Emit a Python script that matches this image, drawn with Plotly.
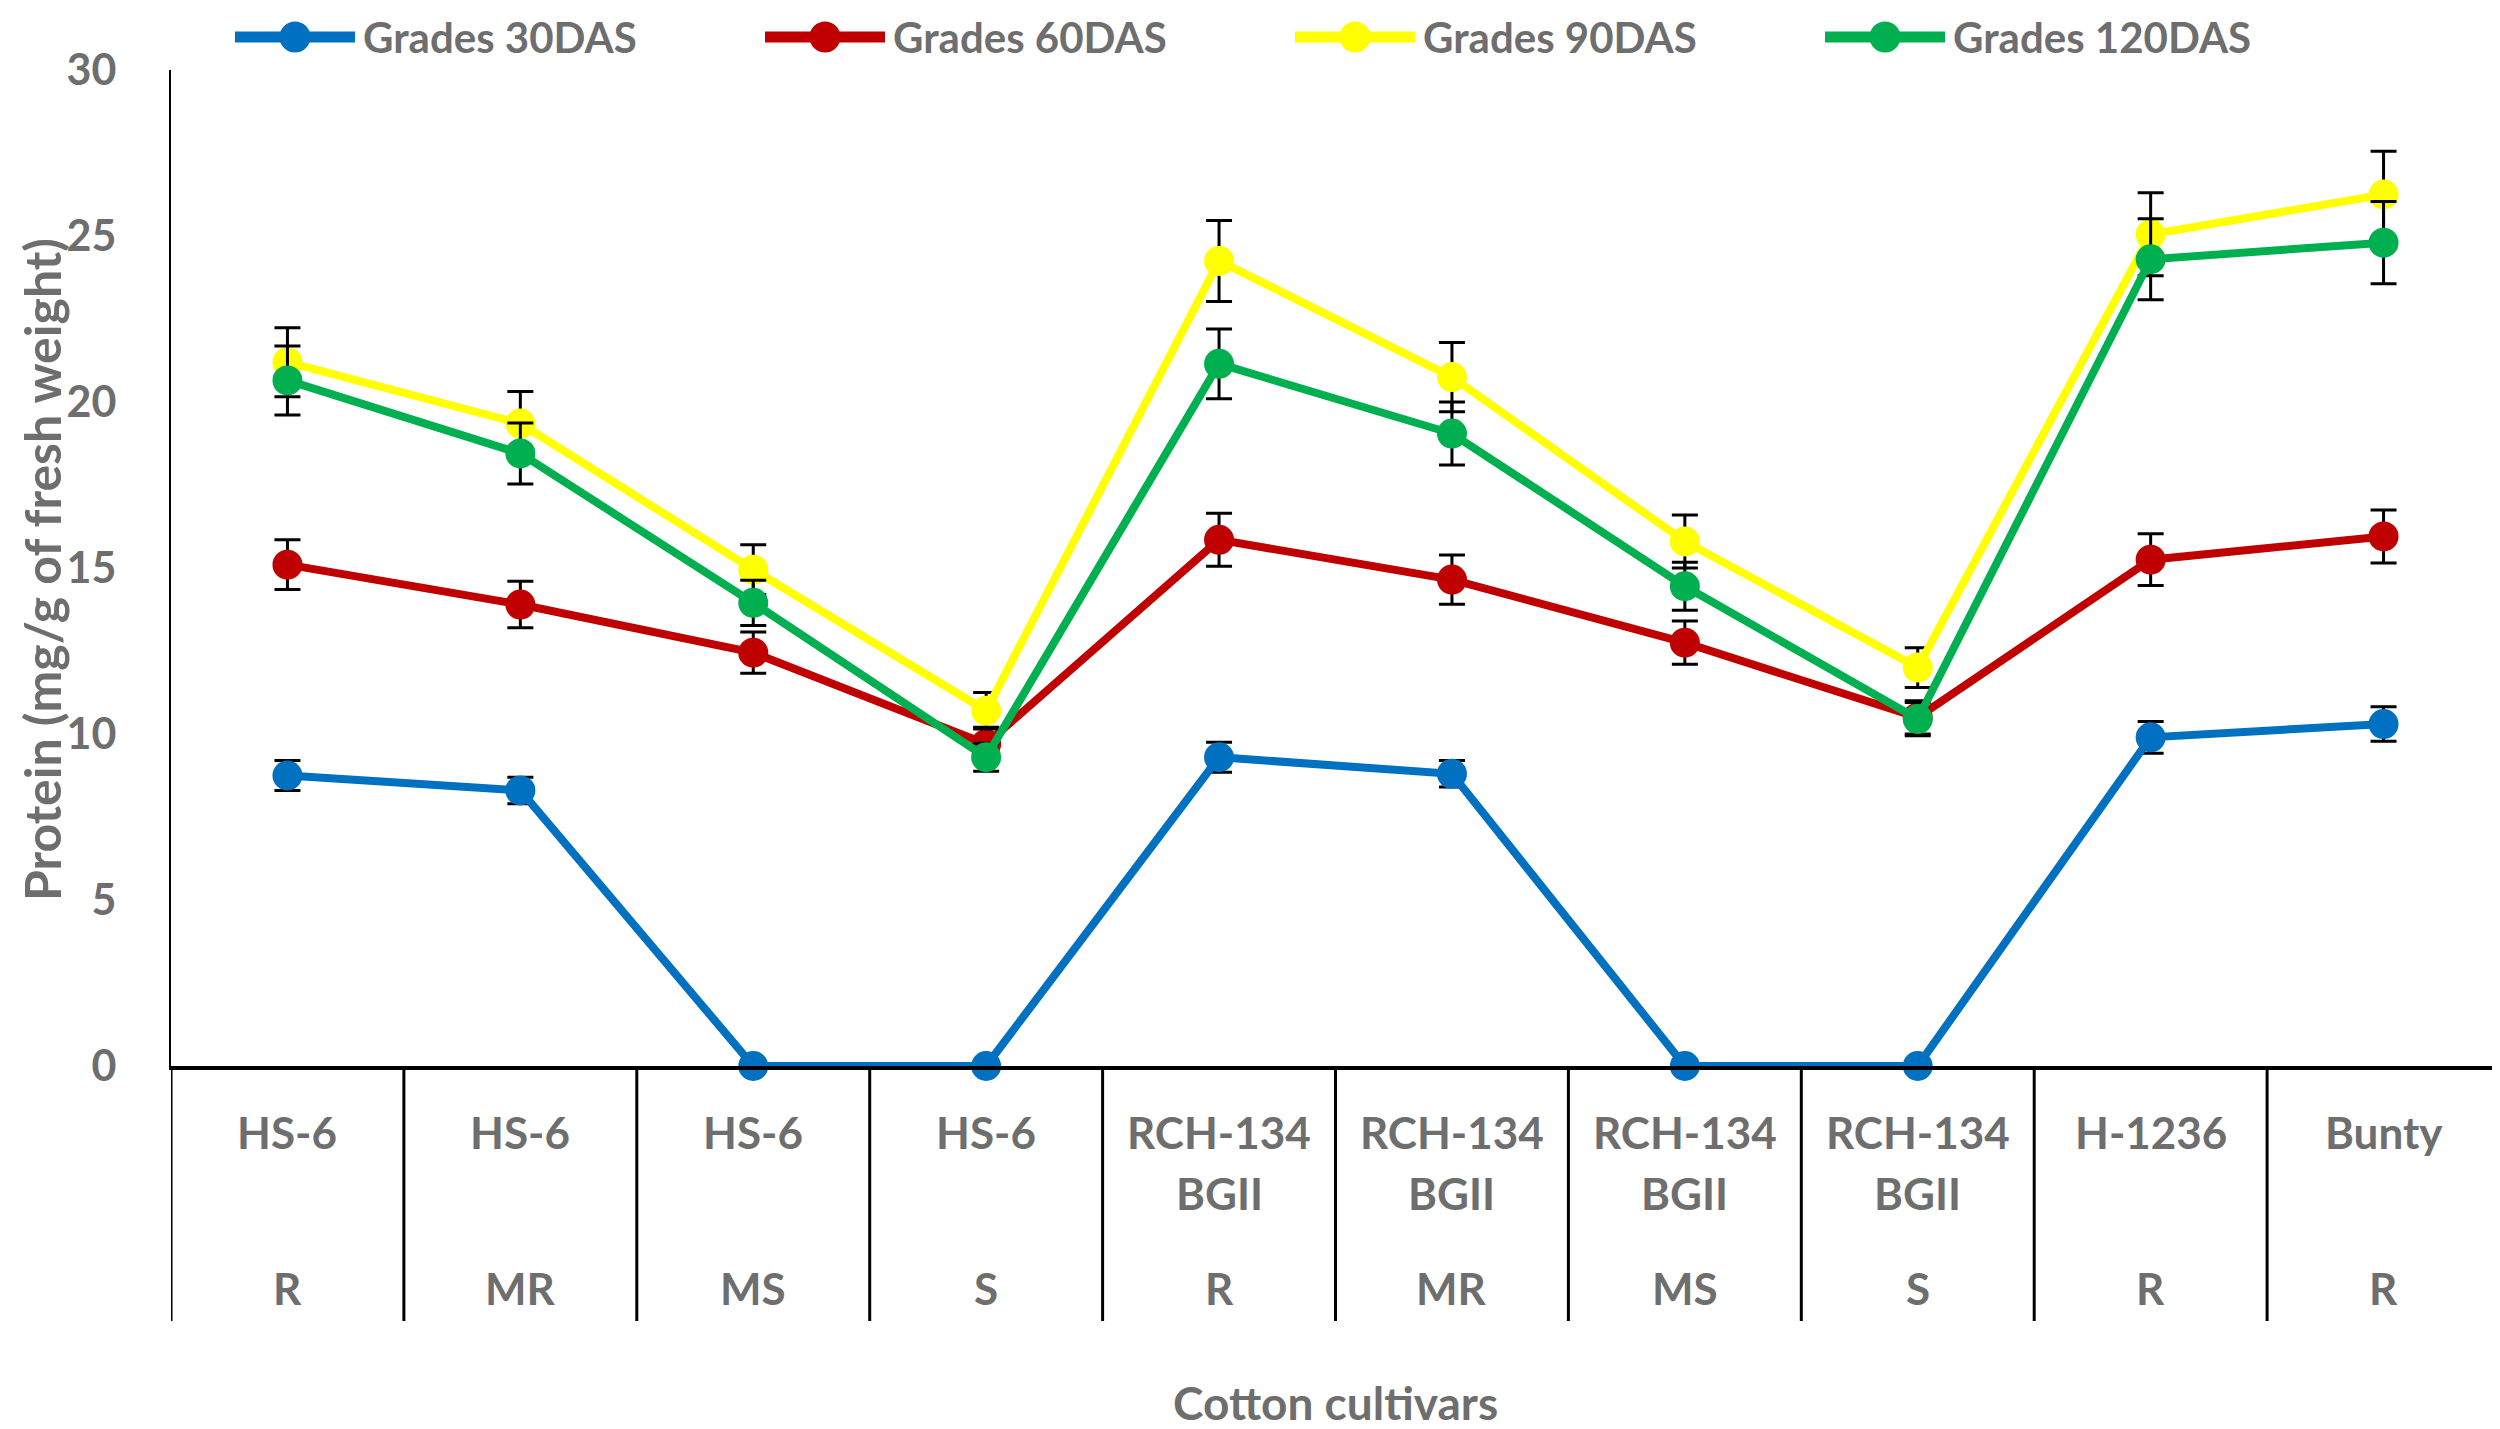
import plotly.graph_objects as go

# Cultivars and resistance grades along the category axis
cultivars = ["HS-6", "HS-6", "HS-6", "HS-6", "RCH-134 BGII", "RCH-134 BGII",
             "RCH-134 BGII", "RCH-134 BGII", "H-1236", "Bunty"]
grades = ["R", "MR", "MS", "S", "R", "MR", "MS", "S", "R", "R"]

# Protein (mg/g of fresh weight) per sampling stage
das30 = [8.75, 8.3, 0, 0, 9.3, 8.8, 0, 0, 9.9, 10.3]
das60 = [15.1, 13.9, 12.45, 9.7, 15.85, 14.65, 12.75, 10.5, 15.25, 15.95]
das90 = [21.2, 19.35, 14.95, 10.7, 24.25, 20.75, 15.8, 12.0, 25.05, 26.25]
das120 = [20.65, 18.45, 13.95, 9.3, 21.15, 19.05, 14.45, 10.45, 24.3, 24.8]

# standard errors
err30 = [0.45, 0.4, 0, 0, 0.45, 0.4, 0, 0, 0.48, 0.52]
err60 = [0.75, 0.7, 0.62, 0.5, 0.8, 0.74, 0.65, 0.5, 0.78, 0.8]
err90 = [1.04, 0.97, 0.75, 0.55, 1.22, 1.04, 0.8, 0.6, 1.25, 1.3]
err120 = [1.04, 0.92, 0.68, 0.42, 1.05, 0.95, 0.72, 0.5, 1.22, 1.24]

series_names = ["Grades 30DAS", "Grades 60DAS", "Grades 90DAS", "Grades 120DAS"]
series_values = [das30, das60, das90, das120]
series_errors = [err30, err60, err90, err120]
series_colors = ["#0070C0", "#C00000", "#FFFF00", "#00B050"]

TEXT_GRAY = "#6e6e6e"
FONT = "Lato"

W, H = 2500, 1429
OFF = 8  # page body margin, positions below are screen pixels
PLOT_L, PLOT_R = 171, 2500
PLOT_T, PLOT_B = 70, 1066
plot_h = PLOT_B - PLOT_T
plot_w = PLOT_R - PLOT_L


def py(px):
    # screen row -> paper y
    return (PLOT_B - px) / plot_h


def px_x(px):
    # screen column -> paper x
    return (px - PLOT_L) / plot_w


def bold(size):
    return dict(size=size, color=TEXT_GRAY, family=FONT, weight="bold")


x_pos = list(range(len(cultivars)))

fig = go.Figure()
for name, vals, errs, col in zip(series_names, series_values, series_errors, series_colors):
    fig.add_trace(go.Scatter(
        x=x_pos,
        y=vals,
        name=name,
        mode="lines+markers",
        line=dict(color=col, width=8),
        marker=dict(color=col, size=30),
        error_y=dict(type="data", array=errs, visible=True,
                     color="black", thickness=3, width=13),
        cliponaxis=False,
        showlegend=False,
    ))

# category table below the axis
shapes = []
for i in range(len(cultivars) + 1):
    shapes.append(dict(type="line", xref="x", yref="paper",
                       x0=i - 0.5, x1=i - 0.5, y0=py(1321), y1=0,
                       line=dict(color="black", width=3)))

annotations = []
for i, (cv, gr) in enumerate(zip(cultivars, grades)):
    for k, part in enumerate(cv.split(" ")):
        annotations.append(dict(x=i, y=py(1132 + 61 * k), xref="x", yref="paper",
                                text=part, showarrow=False, yanchor="middle",
                                font=bold(44)))
    annotations.append(dict(x=i, y=py(1288), xref="x", yref="paper",
                            text=gr, showarrow=False, yanchor="middle",
                            font=bold(44)))

annotations.append(dict(x=0.5, y=py(1402), xref="paper", yref="paper",
                        text="Cotton cultivars", showarrow=False, yanchor="middle",
                        font=bold(46)))
annotations.append(dict(x=px_x(42), y=py(570), xref="paper", yref="paper",
                        text="Protein (mg/g of fresh weight)", showarrow=False,
                        textangle=-90, xanchor="center", yanchor="middle",
                        font=bold(50)))

# legend row drawn across the top
LEG_Y = 37
for i, (name, col) in enumerate(zip(series_names, series_colors)):
    x0 = 235 + 530 * i
    shapes.append(dict(type="line", xref="paper", yref="paper",
                       x0=px_x(x0), x1=px_x(x0 + 120), y0=py(LEG_Y), y1=py(LEG_Y),
                       line=dict(color=col, width=11)))
    shapes.append(dict(type="circle", xref="paper", yref="paper",
                       xsizemode="pixel", ysizemode="pixel",
                       xanchor=px_x(x0 + 60), yanchor=py(LEG_Y),
                       x0=-15.5, x1=15.5, y0=-15.5, y1=15.5,
                       fillcolor=col, line=dict(width=0)))
    annotations.append(dict(x=px_x(x0 + 126), y=py(LEG_Y), xref="paper", yref="paper",
                            text=name, showarrow=False, xanchor="left", yanchor="middle",
                            font=bold(42)))

fig.update_layout(
    width=W,
    height=H,
    margin=dict(l=PLOT_L - OFF, r=W - PLOT_R + OFF, t=PLOT_T - OFF, b=H - PLOT_B + OFF,
                autoexpand=False),
    plot_bgcolor="white",
    paper_bgcolor="white",
    font=dict(family=FONT, color=TEXT_GRAY),
    showlegend=False,
    xaxis=dict(range=[-0.5, 9.5], showticklabels=False, ticks="",
               showgrid=False, zeroline=False, showline=True,
               linecolor="black", linewidth=4),
    yaxis=dict(range=[0, 30], tickvals=[0, 5, 10, 15, 20, 25, 30],
               showgrid=False, zeroline=False, showline=True,
               linecolor="black", linewidth=2, ticks="",
               ticklabelstandoff=44,
               tickfont=bold(43)),
    shapes=shapes,
    annotations=annotations,
)

fig.write_html("out.html")
